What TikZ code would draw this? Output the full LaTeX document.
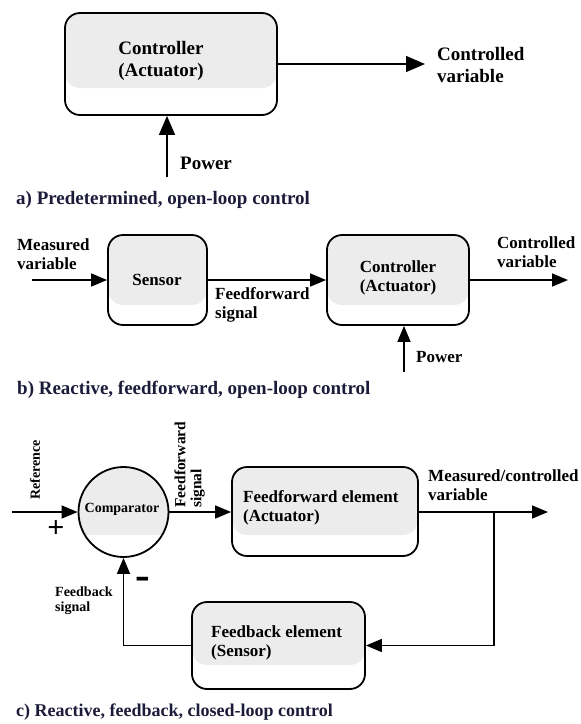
\documentclass[tikz,border=0pt]{standalone}
\usepackage{fontspec}
\setmainfont{Liberation Serif}
\usetikzlibrary{arrows.meta}
\definecolor{boxgray}{RGB}{236,236,236}
\definecolor{capcol}{RGB}{28,28,58}
\tikzset{
  box/.style={draw, line width=1.8pt, rounded corners=15pt,
    path picture={\fill[boxgray] (path picture bounding box.north west) rectangle ([yshift=#1pt]path picture bounding box.south east);}},
  box/.default=22,
  circbox/.style={draw, circle, line width=1.8pt, minimum size=90pt, inner sep=0pt,
    path picture={\fill[boxgray] (path picture bounding box.north west) rectangle ([yshift=22pt]path picture bounding box.south east);}},
  arr/.style={line width=1.6pt, -{Triangle[length=16pt,width=13pt]}},
  arrbig/.style={line width=1.6pt, -{Triangle[length=19pt,width=16pt]}},
  ta/.style={inner sep=0pt, font=\bfseries\fontsize{19}{22}\selectfont},
  tb/.style={inner sep=0pt, font=\bfseries\fontsize{17}{19}\selectfont},
  tc/.style={inner sep=0pt, font=\bfseries\fontsize{14}{15}\selectfont},
  captxt/.style={inner sep=0pt, anchor=west, text=capcol, font=\bfseries\fontsize{19}{22}\selectfont},
}
\begin{document}
\begin{tikzpicture}[x=1pt,y=-1pt]
\useasboundingbox (0,0) rectangle (581,724);
% ---------- a ----------
\node[box=27, minimum width=212pt, minimum height=102pt] (actrl) at (171,64) {};
\node[ta, align=center] (actrlt) at (161,61) {Controller\\(Actuator)};
\coordinate (aout) at (425,64);
\draw[arrbig] (actrl.east) -- (aout);
\node[ta, align=left, anchor=west] (aoutl) at (437,65) {Controlled\\variable};
\coordinate (apow) at (167,177);
\draw[arrbig] (apow) -- (apow |- actrl.south);
\node[ta, anchor=west] (apowl) at (180,163) {Power};
\node[captxt] (acap) at (16,200) {a) Predetermined, open-loop control};
% ---------- b ----------
\node[box=20, minimum width=99pt, minimum height=90pt] (bsens) at (157.5,280) {};
\node[tb] (bsenst) at (157,280) {Sensor};
\node[box=20, minimum width=142pt, minimum height=90pt] (bctrl) at (398,280) {};
\node[tb, align=center] (bctrlt) at (398,277.5) {Controller\\(Actuator)};
\coordinate (bin) at (32,280);
\draw[arr] (bin) -- (bsens.west);
\node[tb, align=left, anchor=west] (binl) at (17,254.5) {Measured\\variable};
\draw[arr] (bsens.east) -- (bctrl.west);
\node[tb, align=left, anchor=west] (bffl) at (215,305) {Feedforward\\signal};
\coordinate (bout) at (568,280);
\draw[arr] (bctrl.east) -- (bout);
\node[tb, align=left, anchor=west] (boutl) at (497,252) {Controlled\\variable};
\coordinate (bpow) at (404,372);
\draw[arr] (bpow) -- (bpow |- bctrl.south);
\node[tb, anchor=west] (bpowl) at (416,357) {Power};
\node[captxt] (bcap) at (17,390) {b) Reactive, feedforward, open-loop control};
% ---------- c ----------
\node[circbox] (comp) at (123.5,512) {};
\node[tc] (compt) at (122,509) {Comparator};
\coordinate (cref) at (12,512);
\draw[arr] (cref) -- (comp.west);
\node[tc, rotate=90] (creft) at (35,470) {Reference};
\node[tc, anchor=base, font=\bfseries\fontsize{30}{30}\selectfont] (cplus) at (56,537) {+};
\node[box=21, minimum width=186pt, minimum height=89pt] (cff) at (325,511.5) {};
\node[tb, align=left, anchor=west] (cfft) at (243,507.5) {Feedforward element\\(Actuator)};
\draw[arr] (comp.east) -- (cff.west |- comp.east);
\node[tc, font=\bfseries\fontsize{15.5}{16}\selectfont, rotate=90, align=left, anchor=south west] (cffl) at (205,508) {Feedforward\\signal};
\coordinate (cout) at (548,512);
\draw[arr] (cff.east |- cout) -- (cout);
\node[tb, align=left, anchor=west] (coutl) at (428,485.5) {Measured/controlled\\variable};
\node[box=24, minimum width=173pt, minimum height=87pt] (cfb) at (278.5,645.5) {};
\node[tb, align=left, anchor=west] (cfbt) at (211,642.5) {Feedback element\\(Sensor)};
\coordinate (cbr) at (494,512);
\draw[arr] (cbr) -- (cbr |- cfb.east) -- (cfb.east);
\draw[arr] (cfb.west) -- (comp.south |- cfb.west) -- (comp.south);
\node[tc, anchor=base, font=\bfseries\fontsize{44}{44}\selectfont] (cminus) at (142.5,589) {-};
\node[tc, align=left, anchor=west] (cfbl) at (55,600.5) {Feedback\\signal};
\node[captxt, font=\bfseries\fontsize{18}{22}\selectfont] (ccap) at (16,712) {c) Reactive, feedback, closed-loop control};
\end{tikzpicture}
\end{document}
